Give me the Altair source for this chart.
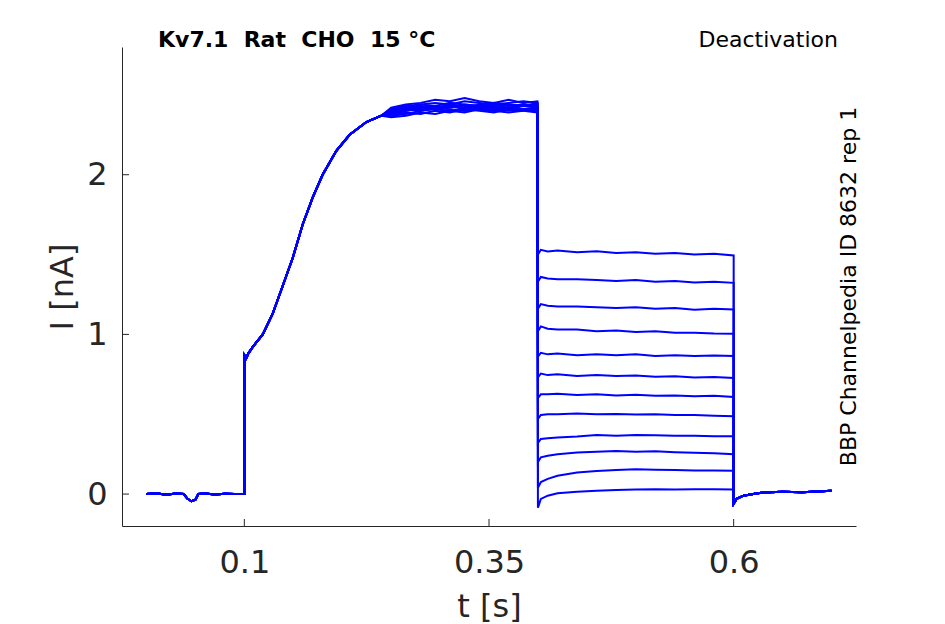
import altair as alt
import pandas as pd

# ---------------- data ----------------
X_DOMAIN = [-0.025, 0.725]
Y_DOMAIN = [-0.2, 2.8]
X_TICKS = [0.1, 0.35, 0.6]
Y_TICKS = [0, 1, 2]

# holding period before the step (shared by all sweeps)
BASE_T = [0.0, 0.01, 0.02, 0.03, 0.038, 0.042, 0.046, 0.05, 0.053, 0.06, 0.07, 0.08, 0.09, 0.1]
BASE_I = [0.0, 0.005, -0.004, 0.003, 0.0, -0.03, -0.045, -0.035, 0.0, 0.004, -0.003, 0.002, 0.0, 0.0]

# activation rise (shared)
RISE_T = [0.1, 0.102, 0.104, 0.1085, 0.1188, 0.129, 0.139, 0.1495, 0.1597, 0.17, 0.18, 0.194, 0.2076, 0.2247, 0.24]
RISE_I = [0.87, 0.85, 0.88, 0.92, 1.00, 1.13, 1.30, 1.48, 1.69, 1.86, 2.00, 2.15, 2.25, 2.33, 2.37]

# plateau of each sweep
PLATEAU_T = [0.25, 0.265, 0.28, 0.295, 0.31, 0.325, 0.34, 0.355, 0.37, 0.385, 0.3995]
PLATEAU_I = [
    [2.40, 2.42, 2.41, 2.43, 2.42, 2.44, 2.43, 2.42, 2.44, 2.43, 2.44],
    [2.38, 2.40, 2.42, 2.41, 2.43, 2.42, 2.41, 2.43, 2.42, 2.41, 2.42],
    [2.41, 2.43, 2.44, 2.45, 2.44, 2.46, 2.45, 2.44, 2.45, 2.46, 2.45],
    [2.36, 2.37, 2.39, 2.38, 2.40, 2.39, 2.41, 2.40, 2.39, 2.40, 2.41],
    [2.39, 2.41, 2.40, 2.42, 2.44, 2.43, 2.42, 2.44, 2.43, 2.44, 2.43],
    [2.42, 2.44, 2.45, 2.47, 2.46, 2.48, 2.46, 2.45, 2.47, 2.45, 2.46],
    [2.37, 2.39, 2.38, 2.40, 2.39, 2.41, 2.40, 2.39, 2.41, 2.40, 2.39],
    [2.40, 2.41, 2.43, 2.42, 2.43, 2.42, 2.44, 2.43, 2.42, 2.44, 2.43],
    [2.38, 2.40, 2.41, 2.42, 2.41, 2.40, 2.42, 2.41, 2.40, 2.41, 2.40],
    [2.41, 2.42, 2.44, 2.43, 2.45, 2.44, 2.43, 2.45, 2.44, 2.43, 2.45],
    [2.37, 2.38, 2.40, 2.41, 2.40, 2.42, 2.41, 2.40, 2.42, 2.41, 2.40],
    [2.39, 2.41, 2.42, 2.41, 2.43, 2.42, 2.43, 2.42, 2.41, 2.43, 2.42],
]

# deactivation (tail) step of each sweep
DEACT_T = [0.4, 0.403, 0.41, 0.42, 0.44, 0.46, 0.48, 0.50, 0.52, 0.54, 0.56, 0.58, 0.6]
DEACT_I = [
    [1.50, 1.53, 1.52, 1.525, 1.515, 1.52, 1.51, 1.515, 1.505, 1.51, 1.50, 1.505, 1.494],
    [1.33, 1.36, 1.35, 1.345, 1.345, 1.34, 1.335, 1.34, 1.33, 1.335, 1.325, 1.33, 1.323],
    [1.16, 1.19, 1.18, 1.175, 1.175, 1.17, 1.165, 1.17, 1.16, 1.165, 1.155, 1.16, 1.156],
    [1.02, 1.05, 1.035, 1.03, 1.03, 1.02, 1.025, 1.015, 1.02, 1.01, 1.01, 1.005, 1.004],
    [0.86, 0.885, 0.875, 0.88, 0.87, 0.875, 0.87, 0.875, 0.865, 0.87, 0.865, 0.868, 0.865],
    [0.73, 0.755, 0.745, 0.75, 0.74, 0.745, 0.74, 0.742, 0.735, 0.738, 0.73, 0.733, 0.727],
    [0.60, 0.625, 0.625, 0.628, 0.62, 0.625, 0.618, 0.622, 0.615, 0.618, 0.612, 0.615, 0.608],
    [0.47, 0.495, 0.50, 0.50, 0.505, 0.50, 0.502, 0.498, 0.50, 0.495, 0.495, 0.49, 0.4875],
    [0.32, 0.345, 0.35, 0.355, 0.36, 0.37, 0.365, 0.37, 0.368, 0.365, 0.365, 0.362, 0.3625],
    [0.20, 0.23, 0.24, 0.25, 0.26, 0.265, 0.27, 0.265, 0.268, 0.262, 0.258, 0.255, 0.25],
    [0.04, 0.075, 0.095, 0.115, 0.135, 0.145, 0.15, 0.155, 0.152, 0.15, 0.148, 0.147, 0.146],
    [-0.085, -0.03, -0.01, 0.005, 0.015, 0.02, 0.025, 0.028, 0.03, 0.028, 0.03, 0.03, 0.029],
]

# after the pulse (shared)
TAIL_T = [0.6, 0.603, 0.61, 0.62, 0.63, 0.65, 0.67, 0.69, 0.7]
TAIL_I = [-0.06, -0.03, -0.01, 0.0, 0.01, 0.015, 0.012, 0.018, 0.02]

NB = "\u00a0"
TITLE_LEFT = f"Kv7.1{NB}{NB}Rat{NB}{NB}CHO{NB}{NB}15{NB}°C"
TITLE_RIGHT = "Deactivation"
SIDE_NOTE = "BBP Channelpedia ID 8632 rep 1"

# ---------------- build table ----------------
rows = []
for k in range(len(DEACT_I)):
    ts = BASE_T + RISE_T + PLATEAU_T + DEACT_T + TAIL_T
    vs = BASE_I + RISE_I + PLATEAU_I[k] + DEACT_I[k] + TAIL_I
    for j, (t, v) in enumerate(zip(ts, vs)):
        rows.append({"sweep": k, "idx": j, "t": t, "I": v})
df = pd.DataFrame(rows)

W, H = 734, 479
AX = "#262626"
FONT = "DejaVu Sans"

xs = alt.Scale(domain=X_DOMAIN, nice=False, zero=False)
ys = alt.Scale(domain=Y_DOMAIN, nice=False, zero=False)

lines = alt.Chart(df).mark_line(color="#0000FF", strokeWidth=2).encode(
    x=alt.X("t:Q", scale=xs, axis=alt.Axis(
        values=X_TICKS, title="t [s]", ticks=False, grid=False,
        labelFontSize=32, labelPadding=46, labelBaseline="alphabetic",
        labelFlush=False, titleFontSize=32, titleX=W / 2, titleY=90,
        titleBaseline="alphabetic", titleAlign="center",
        labelExpr="datum.value == 0.35 ? '0.35' : format(datum.value, '.1f')",
    )),
    y=alt.Y("I:Q", scale=ys, axis=alt.Axis(
        values=Y_TICKS, title="I [nA]", ticks=False, grid=False, format="d",
        labelFontSize=32, labelPadding=15, labelFlush=False,
        titleFontSize=32, titleX=-50, titleY=H / 2, titleAngle=-90,
        titleBaseline="alphabetic", titleAlign="center",
    )),
    detail="sweep:N",
    order="idx:Q",
)

xt = alt.Chart(pd.DataFrame({"v": X_TICKS})).mark_rule(color=AX, strokeWidth=1).encode(
    x=alt.X("v:Q", scale=xs), y=alt.value(H), y2=alt.value(H - 7)
)
yt = alt.Chart(pd.DataFrame({"v": Y_TICKS})).mark_rule(color=AX, strokeWidth=1).encode(
    y=alt.Y("v:Q", scale=ys), x=alt.value(0), x2=alt.value(7)
)

t1 = alt.Chart(pd.DataFrame({"s": [TITLE_LEFT]})).mark_text(
    font=FONT, fontSize=22, fontWeight="bold", color="black",
    align="left", baseline="alphabetic"
).encode(text="s:N", x=alt.value(36), y=alt.value(0))

t2 = alt.Chart(pd.DataFrame({"s": [TITLE_RIGHT]})).mark_text(
    font=FONT, fontSize=22, color="black", align="right", baseline="alphabetic"
).encode(text="s:N", x=alt.value(716), y=alt.value(0))

t3 = alt.Chart(pd.DataFrame({"s": [SIDE_NOTE]})).mark_text(
    font=FONT, fontSize=22, color="black", align="center", baseline="alphabetic",
    angle=270
).encode(text="s:N", x=alt.value(W), y=alt.value(H / 2))

chart = alt.layer(lines, xt, yt, t1, t2, t3).properties(
    width=W, height=H,
    autosize=alt.AutoSizeParams(type="none"),
    padding={"left": 114, "top": 39, "right": 81, "bottom": 97},
    background="white",
).configure_view(stroke=None).configure_axis(
    labelFont=FONT, titleFont=FONT, labelColor=AX, titleColor=AX,
    titleFontWeight="normal", domainColor=AX, domainWidth=1,
)

chart.save("out.html", embed_options={"renderer": "svg", "actions": False})
